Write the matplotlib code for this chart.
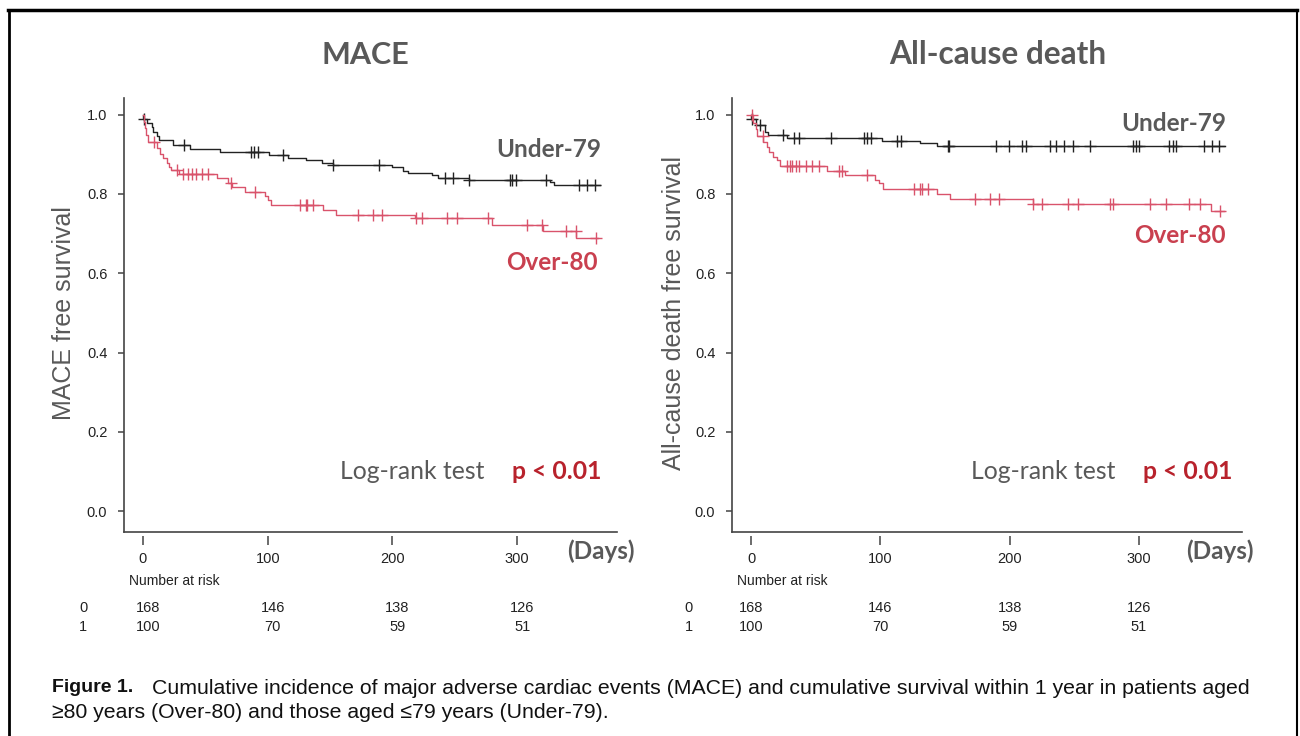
import numpy as np
import matplotlib
matplotlib.use('Agg')
import matplotlib.pyplot as plt
from matplotlib.lines import Line2D

plt.rcParams['font.family'] = ['Liberation Sans', 'DejaVu Sans']

# ---- data ----
# MACE, Under-79 (black)
mace_u_t = [0, 3, 7, 8, 11, 13, 24, 37.6, 61.7, 101.4, 116, 131, 143.7, 152, 199.3, 208.6, 212.6, 231.3, 236.7, 261.5, 326, 329.6]
mace_u_s = [0.989, 0.978, 0.970, 0.956, 0.945, 0.936, 0.924, 0.913, 0.905, 0.898, 0.891, 0.885, 0.877, 0.872, 0.868, 0.859, 0.853, 0.847, 0.841, 0.835, 0.829, 0.823]
mace_u_cens = [0.5, 32.8, 86.3, 89, 92.5, 112.6, 152, 189, 242, 248.7, 261.5, 294, 296.2, 299, 322.9, 349.6, 356, 362.7]
mace_u_end = 366

# MACE, Over-80 (red)
mace_o_t = [0.5, 1.5, 2.5, 4, 11, 13.6, 16.2, 19, 21, 22.8, 29, 59.5, 68.3, 71, 82, 97.5, 100, 102.3, 144.5, 154.7, 218, 279.4, 320.8, 347.5]
mace_o_s = [0.982, 0.966, 0.949, 0.932, 0.915, 0.902, 0.890, 0.877, 0.867, 0.860, 0.850, 0.839, 0.827, 0.817, 0.806, 0.795, 0.785, 0.772, 0.759, 0.748, 0.740, 0.722, 0.707, 0.690]
mace_o_cens = [9, 27.5, 32.3, 36.3, 39, 42.2, 47, 52, 70.2, 89.7, 125.8, 130.6, 131.7, 136.5, 172.6, 184.5, 191.6, 218.5, 223.8, 243.9, 251.9, 276.7, 308, 320.2, 339, 347, 363.5]
mace_o_end = 365

# All-cause death, Under-79 (black)
death_u_t = [0, 3.5, 10.8, 13.4, 27.5, 101, 131, 143.6]
death_u_s = [0.989, 0.974, 0.957, 0.948, 0.942, 0.934, 0.928, 0.922]
death_u_cens = [0.5, 7.3, 24.5, 33, 37, 62, 87, 90, 93, 113, 116, 152, 152.8, 189.5, 199.8, 209.3, 212.4, 231, 236,
                242, 249.3, 262.2, 295.2, 297.7, 300.3, 323.5, 326, 328.6, 350.4, 356.3, 362.2]
death_u_end = 366.6

# All-cause death, Over-80 (red)
death_o_t = [1.8, 3.6, 4.4, 9.5, 12.1, 14.2, 17.3, 19.9, 22.4, 59, 72.7, 96, 99, 102, 143.6, 154, 218.4, 355.5]
death_o_s = [0.980, 0.963, 0.945, 0.932, 0.919, 0.907, 0.894, 0.886, 0.871, 0.858, 0.848, 0.835, 0.827, 0.812, 0.799, 0.787, 0.774, 0.757]
death_o_cens = [0.5, 9, 27.5, 30, 32, 34.6, 36.9, 42.3, 47.2, 52.4, 68, 70, 90, 126.4, 131, 132, 137, 173.2, 184.8, 192,
                218.4, 225, 245, 252.5, 277.6, 280, 308.6, 320.7, 339, 347.3, 363]
death_o_end = 366

risk_times = [0, 100, 200, 300]
risk_under = [168, 146, 138, 126]
risk_over = [100, 70, 59, 51]

BLACK = '#222222'
RED = '#d9536b'
GRAY = '#595959'
LABEL_RED = '#c9404f'
P_RED = '#b8222c'


def km_step(times, surv, end):
	t = np.concatenate([[0], times, [end]])
	s = np.concatenate([[1.0], surv, [surv[-1]]])
	return t, s


def censor_y(times, surv, cens):
	t = np.asarray(times)
	s = np.asarray(surv)
	idx = np.searchsorted(t, cens, side='right') - 1
	return np.where(idx >= 0, s[np.clip(idx, 0, None)], 1.0)


def draw_panel(ax, curves, xlim, ylabel, ylab_x, lab_u, lab_o, logrank_x, p_x, days_x, risk_dx):
	for times, surv, cens, end, col in curves:
		t, s = km_step(times, surv, end)
		ax.plot(t, s, drawstyle='steps-post', color=col, lw=1.0)
		ax.plot(cens, censor_y(times, surv, cens), ls='none', marker='+', ms=9, mew=1.0, color=col)

	ylo, yhi = -0.0525, 1.042
	ax.set_xlim(*xlim)
	ax.set_ylim(ylo, yhi)
	ax.set_yticks([0, 0.2, 0.4, 0.6, 0.8, 1.0])
	ax.set_yticklabels(['0.0', '0.2', '0.4', '0.6', '0.8', '1.0'])
	ax.set_xticks(risk_times)
	ax.tick_params(axis='y', length=4.5, width=1.1, pad=7.5, labelsize=10.5, color='#444444', labelcolor='#222222')
	ax.tick_params(axis='x', length=6.5, width=1.1, pad=5, labelsize=10.5, color='#444444', labelcolor='#222222')
	for side in ['top', 'right']:
		ax.spines[side].set_visible(False)
	ax.spines['left'].set_color('#444444')
	ax.spines['left'].set_linewidth(1.2)
	# detached x ticks below the axis line
	ax.spines['bottom'].set_position(('outward', 3))
	ax.spines['bottom'].set_visible(False)
	ax.axhline(ylo, color='#444444', lw=1.2, clip_on=False)

	ax.set_ylabel(ylabel, fontsize=18, color=GRAY)
	ax.yaxis.set_label_coords(ylab_x, 0.505)

	ax.text(lab_u[0], lab_u[1], 'Under-79', ha='right', va='center', fontsize=17.5, fontweight='bold',
	        color=GRAY, family='Lato')
	ax.text(lab_o[0], lab_o[1], 'Over-80', ha='right', va='center', fontsize=17.5, fontweight='bold',
	        color=LABEL_RED, family='Lato')

	ax.text(logrank_x, 0.099, 'Log-rank test', ha='left', va='center',
	        fontsize=17.8, color=GRAY, family='Lato')
	ax.text(p_x, 0.099, 'p < 0.01', ha='left', va='center',
	        fontsize=17.8, fontweight='bold', color=P_RED, family='Lato')
	ax.text(days_x, -0.1, '(Days)', ha='left', va='center',
	        fontsize=17.5, fontweight='bold', color=GRAY, family='Lato', clip_on=False)

	# number at risk table
	ax.text(-11, -0.176, 'Number at risk', ha='left', va='center', fontsize=10, color='#222222', clip_on=False)
	for tt, nu, no in zip(risk_times, risk_under, risk_over):
		ax.text(tt + risk_dx, -0.244, str(nu), ha='center', va='center', fontsize=10.5, color='#222222', clip_on=False)
		ax.text(tt + risk_dx, -0.292, str(no), ha='center', va='center', fontsize=10.5, color='#222222', clip_on=False)
	ax.text(-48, -0.244, '0', ha='center', va='center', fontsize=10.5, color='#222222', clip_on=False)
	ax.text(-48, -0.292, '1', ha='center', va='center', fontsize=10.5, color='#222222', clip_on=False)


fig = plt.figure(figsize=(13, 7.36), dpi=100)
W, H = 1300.0, 736.0

ax1 = fig.add_axes([124 / W, 1 - 532 / H, 493 / W, 434 / H])
draw_panel(ax1,
           [(mace_u_t, mace_u_s, mace_u_cens, mace_u_end, BLACK),
            (mace_o_t, mace_o_s, mace_o_cens, mace_o_end, RED)],
           (-15.2, 380), 'MACE free survival', -0.097, (367, 0.913), (364.6, 0.626),
           157.9, 295.7, 339.7, 4)

ax2 = fig.add_axes([732 / W, 1 - 532 / H, 510 / W, 434 / H])
draw_panel(ax2,
           [(death_u_t, death_u_s, death_u_cens, death_u_end, BLACK),
            (death_o_t, death_o_s, death_o_cens, death_o_end, RED)],
           (-14.7, 379.7), 'All-cause death free survival', -0.09, (367.4, 0.977), (367.4, 0.694),
           170.1, 303.2, 336.4, 0)

fig.text(365 / W, 1 - 55 / H, 'MACE', ha='center', va='center', fontsize=22, fontweight='bold',
         color=GRAY, family='Lato')
fig.text(998 / W, 1 - 55 / H, 'All-cause death', ha='center', va='center', fontsize=22.8, fontweight='bold',
         color=GRAY, family='Lato')

# caption
fig.text(52 / W, 1 - 688 / H, 'Figure 1.', ha='left', va='center', fontsize=14, fontweight='bold',
         color='#111111', family=['Liberation Sans Narrow', 'Liberation Sans'])
fig.text(152 / W, 1 - 688 / H,
         'Cumulative incidence of major adverse cardiac events (MACE) and cumulative survival within 1 year in patients aged',
         ha='left', va='center', fontsize=15.3, color='#111111')
fig.text(52 / W, 1 - 713 / H, '\u226580 years (Over-80) and those aged \u226479 years (Under-79).',
         ha='left', va='center', fontsize=15.3, color='#111111')

# frame around the figure
fig.add_artist(Line2D([8 / W, 1297 / W], [1 - 10 / H, 1 - 10 / H], color='black', lw=2.5, transform=fig.transFigure))
fig.add_artist(Line2D([9 / W, 9 / W], [0, 1 - 10 / H], color='black', lw=2, transform=fig.transFigure))
fig.add_artist(Line2D([1297 / W, 1297 / W], [0, 1 - 10 / H], color='black', lw=1.5, transform=fig.transFigure))

fig.savefig('out.png', dpi=100)
